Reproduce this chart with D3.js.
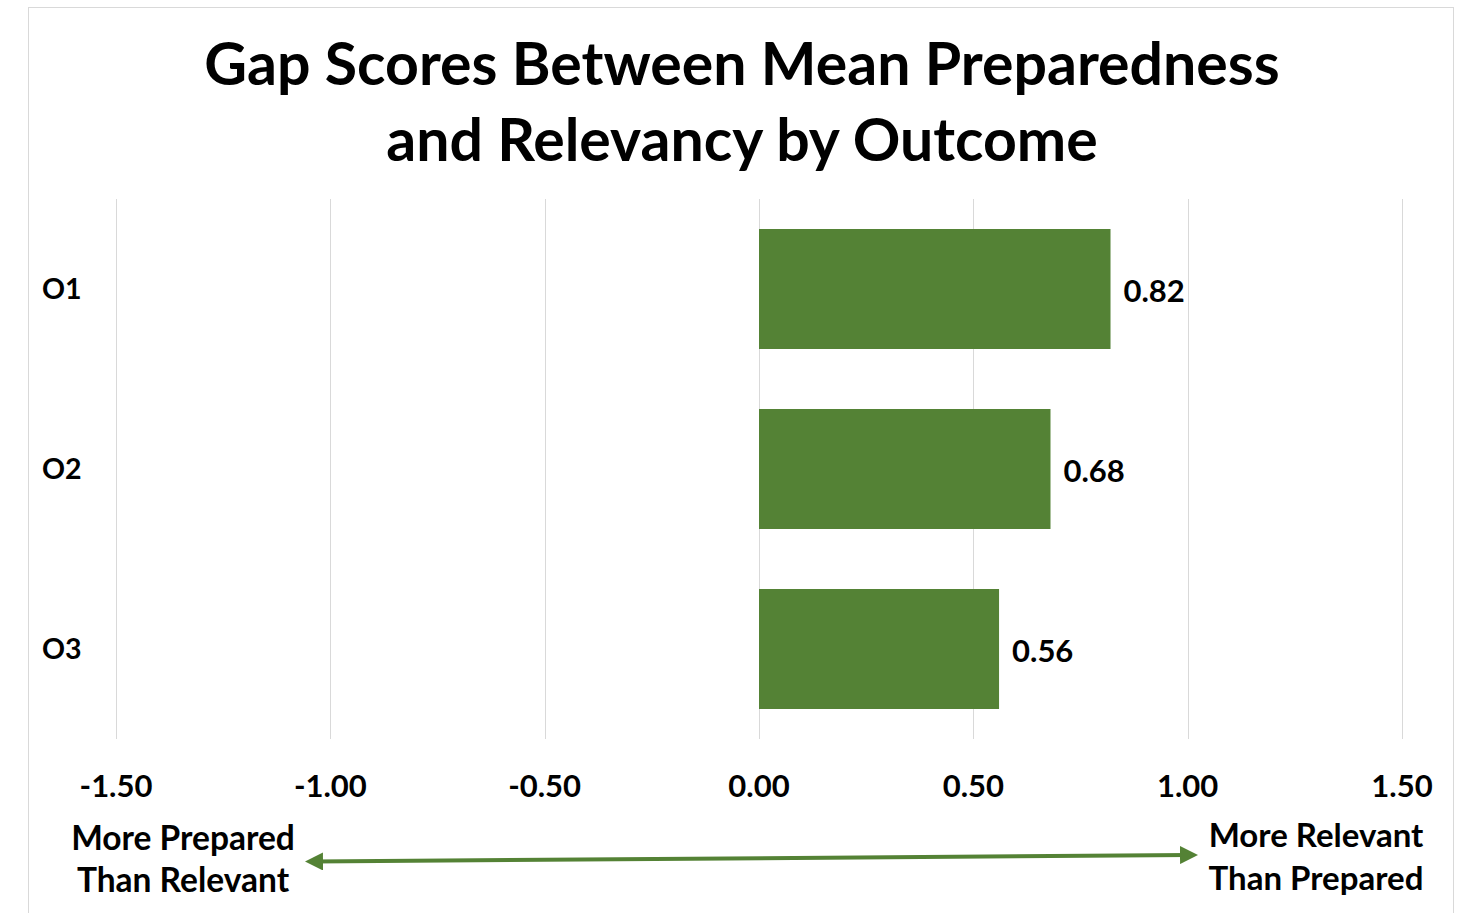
<!DOCTYPE html>
<html><head><meta charset="utf-8">
<script src="https://cdn.jsdelivr.net/npm/d3@7"></script>
<style>
html,body{margin:0;padding:0;background:#fff;}
text{font-family:Lato,"Open Sans",sans-serif;font-weight:bold;fill:#000;}
</style></head>
<body><svg id="c" width="1466" height="913"></svg>
<script>
const categories = ["O1","O2","O3"];
const values = [0.82, 0.68, 0.56];
const tickValues = [-1.5,-1.0,-0.5,0,0.5,1.0,1.5];
const titleLines = ["Gap Scores Between Mean Preparedness","and Relevancy by Outcome"];
const leftNote = ["More Prepared","Than Relevant"];
const rightNote = ["More Relevant","Than Prepared"];

const svg = d3.select("#c");
svg.append("rect").attr("x",28.5).attr("y",7.5).attr("width",1425).attr("height",920)
  .attr("fill","#fff").attr("stroke","#d9d9d9").attr("stroke-width",1);

const x = d3.scaleLinear().domain([-1.5,1.5]).range([116,1402]);
const y = d3.scaleBand().domain(categories).range([199,739]).paddingInner(1/3).paddingOuter(1/6);

// gridlines
svg.append("g").selectAll("line").data(tickValues).join("line")
  .attr("x1",d=>Math.round(x(d))+0.5).attr("x2",d=>Math.round(x(d))+0.5)
  .attr("y1",199).attr("y2",739).attr("stroke","#d9d9d9").attr("stroke-width",1);

// bars
svg.append("g").selectAll("rect").data(values).join("rect")
  .attr("x",d=>x(Math.min(0,d))).attr("width",d=>Math.abs(x(d)-x(0)))
  .attr("y",(d,i)=>y(categories[i])).attr("height",y.bandwidth())
  .attr("fill","#548235");

// value labels
svg.append("g").selectAll("text").data(values).join("text")
  .attr("x",d=>x(d)+13).attr("y",(d,i)=>y(categories[i])+y.bandwidth()/2+2)
  .attr("dy","0.35em").attr("font-size",31).text(d=>d.toFixed(2));

// category labels
svg.append("g").selectAll("text").data(categories).join("text")
  .attr("x",42).attr("y",d=>y(d)+y.bandwidth()/2).attr("dy","0.35em")
  .attr("font-size",28.5).text(d=>d);

// x axis tick labels
svg.append("g").selectAll("text").data(tickValues).join("text")
  .attr("x",d=>x(d)).attr("y",786).attr("dy","0.35em").attr("text-anchor","middle")
  .attr("font-size",31).text(d=>d3.format(".2f")(d).replace("\u2212","-"));

// title
svg.append("g").selectAll("text").data(titleLines).join("text")
  .attr("x",742).attr("y",(d,i)=>64+i*76).attr("dy","0.35em").attr("text-anchor","middle")
  .attr("font-size",59).text(d=>d);

// notes
svg.append("g").selectAll("text").data(leftNote).join("text")
  .attr("x",183).attr("y",(d,i)=>838+i*42).attr("dy","0.35em").attr("text-anchor","middle")
  .attr("font-size",33.5).text(d=>d);
svg.append("g").selectAll("text").data(rightNote).join("text")
  .attr("x",1316).attr("y",(d,i)=>835+i*43).attr("dy","0.35em").attr("text-anchor","middle")
  .attr("font-size",33).text(d=>d);

// arrow
const defs = svg.append("defs");
defs.append("marker").attr("id","ah").attr("viewBox","0 0 10 10").attr("refX",5).attr("refY",5)
  .attr("markerWidth",4.5).attr("markerHeight",4.5).attr("orient","auto-start-reverse")
  .append("path").attr("d","M0,0L10,5L0,10z").attr("fill","#548235");
svg.append("line").attr("x1",314).attr("y1",861.5).attr("x2",1189).attr("y2",855)
  .attr("stroke","#548235").attr("stroke-width",4)
  .attr("marker-start","url(#ah)").attr("marker-end","url(#ah)");
</script></body></html>
